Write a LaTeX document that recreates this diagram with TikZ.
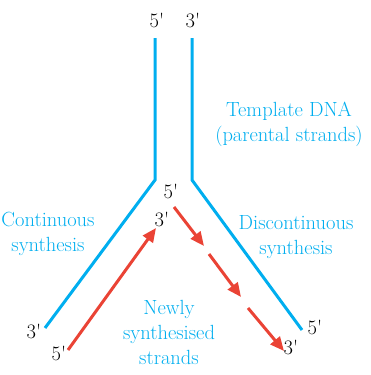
\documentclass[tikz,border=0pt]{standalone}
\usetikzlibrary{arrows.meta}
\definecolor{dnablue}{HTML}{00AEEF}
\definecolor{newred}{HTML}{EA4335}
\newcommand{\pr}{\textquotesingle}
\begin{document}
\begin{tikzpicture}[x=1pt,y=-1pt,
  strand/.style={draw=dnablue,line width=3pt},
  newstrand/.style={draw=newred,line width=3pt,-{Triangle[length=14pt,width=12pt]}},
  endlbl/.style={font=\fontsize{20.5}{22}\selectfont,text=black,inner sep=0pt},
  bluelbl/.style={font=\fontsize{20.5}{25}\selectfont,text=dnablue,align=center,inner sep=0pt}]
\useasboundingbox (0,0) rectangle (371,375);
% template strands
\coordinate (lt) at (155,38);
\coordinate (lm) at (155,180);
\coordinate (lb) at (45,328);
\coordinate (rt) at (192,38);
\coordinate (rm) at (192,180);
\coordinate (rb) at (302,330);
\draw[strand] (lt) -- (lm) -- (lb);
\draw[strand] (rt) -- (rm) -- (rb);
% new strands
\coordinate (a0) at (68,350);
\coordinate (a1) at (156,228);
\draw[newstrand] (a0) -- (a1);
\coordinate (b0) at (174,207);
\coordinate (b1) at (204,246);
\coordinate (c0) at (209,254);
\coordinate (c1) at (241,297);
\coordinate (d0) at (248,308);
\coordinate (d1) at (284,351);
\draw[newstrand] (b0) -- (b1);
\draw[newstrand] (c0) -- (c1);
\draw[newstrand] (d0) -- (d1);
% end labels
\node[endlbl] (t5) at (157,20) {5\pr};
\node[endlbl] (t3) at (193,20) {3\pr};
\node[endlbl] (m5) at (171,191) {5\pr};
\node[endlbl] (m3) at (162,219) {3\pr};
\node[endlbl] (l3) at (34,331) {3\pr};
\node[endlbl] (l5) at (59,353) {5\pr};
\node[endlbl] (r5) at (315,327) {5\pr};
\node[endlbl] (r3) at (291,347) {3\pr};
% blue labels
\node[bluelbl] (tmpl) at (289,124) {Template DNA\\(parental strands)};
\node[bluelbl] (cont) at (48,234) {Continuous\\synthesis};
\node[bluelbl] (disc) at (296,237) {Discontinuous\\synthesis};
\node[bluelbl] (newly) at (169,332) {Newly\\synthesised\\strands};
\end{tikzpicture}
\end{document}
